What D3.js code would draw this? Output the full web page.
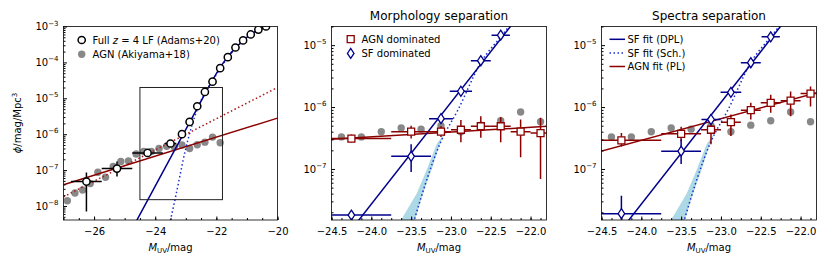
<!DOCTYPE html>
<html lang="en">
<head>
<meta charset="UTF-8">
<title>UV luminosity function: AGN vs SF</title>
<script src="https://d3js.org/d3.v7.min.js"></script>
<style>
  body { margin: 0; background: #fff; }
  svg { display: block; font-family: "DejaVu Sans", sans-serif; }
</style>
</head>
<body>
<div id="chart"></div>
<script>
// ---- values ----

// full z=4 LF (Adams+20)
const adamsM    = [-26.25, -25.25, -24.25, -23.5, -23.125, -22.875, -22.625, -22.375, -22.125, -21.875, -21.625, -21.375, -21.125, -20.875, -20.625, -20.375];
const adamsPhi  = [4.8e-8, 1.1e-7, 3.0e-7, 5.5e-7, 1.0e-6, 2.2e-6, 6.0e-6, 1.5e-5, 2.9e-5, 6.9e-5, 1.4e-4, 2.6e-4, 4.1e-4, 6.0e-4, 8.2e-4, 1.0e-3];
const adamsLo   = [7.0e-9, 6.6e-8, 2.7e-7, 5.0e-7, 0.93e-6, 2.05e-6, 5.6e-6, 1.4e-5, 2.75e-5, 6.6e-5, 1.35e-4, 2.5e-4, 3.95e-4, 5.8e-4, 7.9e-4, 0.97e-3];
const adamsHi   = [8.5e-8, 1.74e-7, 3.3e-7, 6.0e-7, 1.07e-6, 2.35e-6, 6.4e-6, 1.6e-5, 3.05e-5, 7.2e-5, 1.45e-4, 2.7e-4, 4.25e-4, 6.2e-4, 8.5e-4, 1.03e-3];
const adamsXerr = [0.5, 0.5, 0.5, 0.19, 0.125, 0.125, 0.125, 0.125, 0.125, 0.125, 0.125, 0.125, 0.125, 0.125, 0.125, 0.125];

// AGN (Akiyama+18)
const akiyamaM   = [-26.875, -26.625, -26.375, -26.125, -25.875, -25.625, -25.375, -25.125, -24.875, -24.625, -24.375, -24.125, -23.875, -23.625, -23.375, -23.125, -22.875, -22.625, -22.375, -22.125, -21.875];
const akiyamaPhi = [1.4e-8, 2.3e-8, 2.8e-8, 4.2e-8, 8.7e-8, 6.3e-8, 1.26e-7, 1.74e-7, 1.8e-7, 2.8e-7, 3.3e-7, 3.3e-7, 4.0e-7, 4.6e-7, 4.4e-7, 5.0e-7, 4.0e-7, 5.1e-7, 6.0e-7, 8.3e-7, 5.8e-7];

// morphology separation
const morphAgnM    = [-24.25, -23.5, -23.125, -22.875, -22.625, -22.375, -22.125, -21.875];
const morphAgnPhi  = [3.1e-7, 4.0e-7, 4.0e-7, 4.3e-7, 4.9e-7, 4.9e-7, 4.0e-7, 3.8e-7];
const morphAgnLo   = [2.7e-7, 3.1e-7, 3.3e-7, 2.7e-7, 3.2e-7, 2.7e-7, 1.55e-7, 6.9e-8];
const morphAgnHi   = [3.6e-7, 5.0e-7, 4.9e-7, 6.2e-7, 7.1e-7, 6.9e-7, 6.3e-7, 6.7e-7];
const morphAgnXerr = [0.5, 0.25, 0.125, 0.125, 0.125, 0.125, 0.125, 0.125];

const morphSfM    = [-24.25, -23.5, -23.125, -22.875, -22.625, -22.375];
const morphSfPhi  = [1.8e-8, 1.6e-7, 6.5e-7, 1.8e-6, 5.6e-6, 1.45e-5];
const morphSfLo   = [1.8e-8, 8.9e-8, 5.9e-7, 1.65e-6, 5.2e-6, 1.35e-5];
const morphSfHi   = [1.8e-8, 2.5e-7, 7.1e-7, 1.95e-6, 6.0e-6, 1.55e-5];
const morphSfXerr = [0.5, 0.25, 0.15, 0.14, 0.125, 0.115];

// spectra separation
const specAgnM    = [-24.25, -23.5, -23.125, -22.875, -22.625, -22.375, -22.125, -21.875];
const specAgnPhi  = [2.9e-7, 3.7e-7, 4.3e-7, 5.7e-7, 8.9e-7, 1.17e-6, 1.27e-6, 1.65e-6];
const specAgnLo   = [2.3e-7, 2.8e-7, 2.5e-7, 3.4e-7, 6.3e-7, 8.1e-7, 7.1e-7, 1.02e-6];
const specAgnHi   = [3.8e-7, 4.8e-7, 5.9e-7, 7.6e-7, 1.17e-6, 1.58e-6, 1.78e-6, 2.14e-6];
const specAgnXerr = [0.5, 0.25, 0.125, 0.125, 0.125, 0.125, 0.125, 0.125];

const specSfM    = [-24.25, -23.5, -23.125, -22.875, -22.625, -22.375];
const specSfPhi  = [1.9e-8, 1.94e-7, 6.3e-7, 1.73e-6, 5.2e-6, 1.36e-5];
const specSfLo   = [1.0e-8, 1.2e-7, 5.7e-7, 1.6e-6, 4.8e-6, 1.27e-5];
const specSfHi   = [3.7e-8, 3.0e-7, 6.9e-7, 1.87e-6, 5.6e-6, 1.45e-5];
const specSfXerr = [0.5, 0.25, 0.12, 0.13, 0.125, 0.115];

// fit curves (read as points along each curve)
const fullDplM   = [-24.7, -23.4, -22.6, -22.13, -21.87, -21.62, -21.38, -21.13, -20.88, -20.63, -20.38, -20.2];
const fullDplPhi = [2.8e-9, 3.16e-7, 5.75e-6, 3.16e-5, 7.4e-5, 1.45e-4, 2.5e-4, 4.0e-4, 6.0e-4, 8.1e-4, 1.05e-3, 1.26e-3];
const fullSchM   = [-23.56, -23.32, -23.01, -22.63, -22.38, -22.13, -21.87, -21.62, -21.38, -21.13, -20.88, -20.63, -20.38, -20.2];
const fullSchPhi = [2.4e-9, 2.04e-8, 3.7e-7, 4.8e-6, 1.38e-5, 3.0e-5, 6.9e-5, 1.38e-4, 2.45e-4, 3.9e-4, 5.9e-4, 7.9e-4, 1.02e-3, 1.23e-3];
const fullAgnPlM     = [-27, -20];
const fullAgnPlPhi   = [3.9e-8, 2.8e-6];
const fullAgnDotPhi  = [1.8e-8, 2.0e-5];

const sfDplM   = [-24.6, -22.0];
const sfDplPhi = [2.8e-9, 5.2e-5];
const sfSchM   = [-23.5, -23.13, -22.91, -22.62, -22.37, -22.15];
const sfSchPhi = [1.02e-8, 2.69e-7, 9.1e-7, 5.37e-6, 1.38e-5, 3.16e-5];
const sfBandPhi   = [1.4e-8, 4.0e-8, 1.0e-7, 2.5e-7, 3.5e-7];
const sfBandLeft  = [-23.64, -23.43, -23.3, -23.18, -23.1];
const sfBandRight = [-23.46, -23.35, -23.24, -23.14, -23.09];

const morphAgnPlM   = [-24.6, -21.7];
const morphAgnPlPhi = [2.96e-7, 4.97e-7];
const specAgnPlM    = [-24.6, -21.7];
const specAgnPlPhi  = [1.8e-7, 1.84e-6];

const zoomBoxM   = [-24.5, -21.8];
const zoomBoxPhi = [1.5e-8, 2e-5];

// ---- layout ----
const width = 830, height = 267;
const plotTop = 26.5, plotBottom = 220;
const navy = "#00008b", blueDot = "#1a2fd0", red = "#8b0000", redDot = "#a81818", grey = "#888888";

const svg = d3.select("#chart").append("svg")
    .attr("width", width).attr("height", height);

const defs = svg.append("defs");

function makePanel(id, x0, x1, xDom, yDom) {
    const x = d3.scaleLinear().domain(xDom).range([x0, x1]);
    const y = d3.scaleLog().domain(yDom).range([plotBottom, plotTop]);
    defs.append("clipPath").attr("id", "clip-" + id)
        .append("rect").attr("x", x0).attr("y", plotTop)
        .attr("width", x1 - x0).attr("height", plotBottom - plotTop);
    const g = svg.append("g").attr("clip-path", `url(#clip-${id})`);
    return {id, x, y, g, x0, x1};
}

function supLabel(sel, base, sup) {
    sel.append("tspan").text(base);
    sel.append("tspan").attr("font-size", 7).attr("dy", -4.5).text(sup);
}

function drawAxes(p, xMajor, xMinor, xFmt, yMajor, yLabels) {
    const ax = svg.append("g");
    const xa = ax.append("g").attr("transform", `translate(0,${plotBottom})`)
        .call(d3.axisBottom(p.x).tickValues(xMinor).tickSize(-2).tickFormat(""));
    xa.select(".domain").remove();
    const xb = ax.append("g").attr("transform", `translate(0,${plotBottom})`)
        .call(d3.axisBottom(p.x).tickValues(xMajor).tickSize(-3.5).tickFormat(xFmt));
    xb.select(".domain").remove();
    xb.attr("font-family", "DejaVu Sans").attr("font-size", 10);
    xb.selectAll("text").attr("y", 15.2).attr("dy", null).attr("fill", "#000");

    const [lo, hi] = p.y.domain();
    const minor = [];
    for (let d = Math.floor(Math.log10(lo)); d <= Math.ceil(Math.log10(hi)); d++) {
        for (let m = 2; m <= 9; m++) {
            const v = m * Math.pow(10, d);
            if (v >= lo && v <= hi) minor.push(v);
        }
    }
    const ya = ax.append("g").attr("transform", `translate(${p.x0},0)`)
        .call(d3.axisLeft(p.y).tickValues(minor).tickSize(-2).tickFormat(""));
    ya.select(".domain").remove();
    const yb = ax.append("g").attr("transform", `translate(${p.x0},0)`)
        .call(d3.axisLeft(p.y).tickValues(yMajor).tickSize(-3.5).tickFormat(""));
    yb.select(".domain").remove();
    yMajor.forEach((v, i) => {
        const t = ax.append("text").attr("x", p.x0 - 5).attr("y", p.y(v) + 3.6)
            .attr("text-anchor", "end").attr("font-size", 10);
        supLabel(t, "10", yLabels[i]);
    });

    ax.append("rect").attr("x", p.x0).attr("y", plotTop)
        .attr("width", p.x1 - p.x0).attr("height", plotBottom - plotTop)
        .attr("fill", "none").attr("stroke", "#000").attr("stroke-width", 0.8);

    const xl = ax.append("text").attr("x", (p.x0 + p.x1) / 2).attr("y", 250.5)
        .attr("text-anchor", "middle").attr("font-size", 10);
    xl.append("tspan").attr("font-style", "italic").text("M");
    xl.append("tspan").attr("font-size", 7).attr("dy", 2.2).text("UV");
    xl.append("tspan").attr("dy", -2.2).text("/mag");
}

function drawLine(p, ms, phis, color, dotted, curved) {
    const line = d3.line().x(d => p.x(d[0])).y(d => p.y(d[1]));
    if (curved) line.curve(d3.curveMonotoneX);
    p.g.append("path").datum(d3.zip(ms, phis))
        .attr("d", line).attr("fill", "none").attr("stroke", color)
        .attr("stroke-width", 1.5)
        .attr("stroke-dasharray", dotted ? "1.5,2.5" : null);
}

function drawErrors(p, ms, phis, lo, hi, xerr, color) {
    const rows = ms.map((m, i) => ({m, phi: phis[i], lo: lo[i], hi: hi[i], xe: xerr[i]}));
    p.g.append("g").selectAll("line.h").data(rows).enter().append("line")
        .attr("x1", d => p.x(d.m - d.xe)).attr("x2", d => p.x(d.m + d.xe))
        .attr("y1", d => p.y(d.phi)).attr("y2", d => p.y(d.phi))
        .attr("stroke", color).attr("stroke-width", 1.5);
    p.g.append("g").selectAll("line.v").data(rows).enter().append("line")
        .attr("x1", d => p.x(d.m)).attr("x2", d => p.x(d.m))
        .attr("y1", d => p.y(d.lo)).attr("y2", d => p.y(d.hi))
        .attr("stroke", color).attr("stroke-width", 1.5);
}

const squarePath = "M-3.5,-3.5H3.5V3.5H-3.5Z";
const diamondPath = "M0,-5L3.3,0L0,5L-3.3,0Z";

function drawMarkers(g, pts, kind, color) {
    const sel = g.append("g").selectAll("g").data(pts).enter().append("g")
        .attr("transform", d => `translate(${d[0]},${d[1]})`);
    if (kind === "circle") {
        sel.append("circle").attr("r", 3.6).attr("fill", "#fff").attr("stroke", color).attr("stroke-width", 1.5);
    } else if (kind === "dot") {
        sel.append("circle").attr("r", 3.7).attr("fill", color);
    } else if (kind === "square") {
        sel.append("path").attr("d", squarePath).attr("fill", "#fff").attr("stroke", color).attr("stroke-width", 1.3);
    } else {
        sel.append("path").attr("d", diamondPath).attr("fill", "#fff").attr("stroke", color).attr("stroke-width", 1.3);
    }
}

const toPx = (p, ms, phis) => ms.map((m, i) => [p.x(m), p.y(phis[i])]);

// ---- left panel: full LF ----
const full = makePanel("full", 63.5, 277.5, [-27, -20], [4.07e-9, 1e-3]);
drawMarkers(full.g, toPx(full, akiyamaM, akiyamaPhi), "dot", grey);
drawLine(full, fullAgnPlM, fullAgnDotPhi, redDot, true);
drawLine(full, fullAgnPlM, fullAgnPlPhi, red, false);
drawLine(full, fullSchM, fullSchPhi, blueDot, true, true);
drawLine(full, fullDplM, fullDplPhi, navy, false, true);
full.g.append("rect")
    .attr("x", full.x(zoomBoxM[0])).attr("y", full.y(zoomBoxPhi[1]))
    .attr("width", full.x(zoomBoxM[1]) - full.x(zoomBoxM[0]))
    .attr("height", full.y(zoomBoxPhi[0]) - full.y(zoomBoxPhi[1]))
    .attr("fill", "none").attr("stroke", "#222").attr("stroke-width", 1);
drawErrors(full, adamsM, adamsPhi, adamsLo, adamsHi, adamsXerr, "#000");
drawMarkers(full.g, toPx(full, adamsM, adamsPhi), "circle", "#000");
drawAxes(full, [-26, -24, -22, -20], d3.range(-27, -19.99, 0.5), d3.format("d"),
    [1e-8, 1e-7, 1e-6, 1e-5, 1e-4, 1e-3], ["\u22128", "\u22127", "\u22126", "\u22125", "\u22124", "\u22123"]);

const yl = svg.append("text").attr("transform", "translate(21,123) rotate(-90)")
    .attr("text-anchor", "middle").attr("font-size", 10);
yl.append("tspan").attr("font-style", "italic").text("\u03d5");
yl.append("tspan").text("/mag/Mpc");
yl.append("tspan").attr("font-size", 7).attr("dy", -4.5).text("3");

// legend
const lg1 = svg.append("g").attr("font-size", 10);
drawMarkers(lg1, [[81.7, 40]], "circle", "#000");
drawMarkers(lg1, [[81.7, 54.3]], "dot", grey);
const l1 = lg1.append("text").attr("x", 92.5).attr("y", 43.6);
l1.append("tspan").text("Full ");
l1.append("tspan").attr("font-style", "italic").text("z");
l1.append("tspan").text(" = 4 LF (Adams+20)");
lg1.append("text").attr("x", 92.5).attr("y", 57.9).text("AGN (Akiyama+18)");

// ---- middle and right panels ----
function sfPanel(p, agnM, agnPhi, agnLo, agnHi, agnXerr, plM, plPhi, sfM, sfPhi, sfLo, sfHi, sfXerr) {
    drawMarkers(p.g, toPx(p, akiyamaM, akiyamaPhi), "dot", grey);
    const band = d3.area()
        .y(d => p.y(d[0])).x0(d => p.x(d[1])).x1(d => p.x(d[2]));
    p.g.append("path").datum(d3.zip(sfBandPhi, sfBandLeft, sfBandRight))
        .attr("d", band).attr("fill", "#add8e6");
    drawLine(p, plM, plPhi, red, false);
    drawLine(p, sfSchM, sfSchPhi, blueDot, true, true);
    drawLine(p, sfDplM, sfDplPhi, navy, false);
    drawErrors(p, agnM, agnPhi, agnLo, agnHi, agnXerr, red);
    drawMarkers(p.g, toPx(p, agnM, agnPhi), "square", red);
    drawErrors(p, sfM, sfPhi, sfLo, sfHi, sfXerr, navy);
    drawMarkers(p.g, toPx(p, sfM, sfPhi), "diamond", navy);
    drawAxes(p, d3.range(-24.5, -21.99, 0.5), d3.range(-24.5, -21.79, 0.125), d3.format(".1f"),
        [1e-7, 1e-6, 1e-5], ["\u22127", "\u22126", "\u22125"]);
}

const morph = makePanel("morph", 331.5, 546.5, [-24.5, -21.8], [1.5e-8, 2e-5]);
sfPanel(morph, morphAgnM, morphAgnPhi, morphAgnLo, morphAgnHi, morphAgnXerr, morphAgnPlM, morphAgnPlPhi,
    morphSfM, morphSfPhi, morphSfLo, morphSfHi, morphSfXerr);
svg.append("text").attr("x", 439).attr("y", 20).attr("text-anchor", "middle")
    .attr("font-size", 12).text("Morphology separation");

const lg2 = svg.append("g").attr("font-size", 10);
drawMarkers(lg2, [[350.7, 39.2]], "square", red);
drawMarkers(lg2, [[350.7, 53.4]], "diamond", navy);
lg2.append("text").attr("x", 361.5).attr("y", 42.8).text("AGN dominated");
lg2.append("text").attr("x", 361.5).attr("y", 57).text("SF dominated");

const spec = makePanel("spec", 601.5, 816.5, [-24.5, -21.8], [1.5e-8, 2e-5]);
sfPanel(spec, specAgnM, specAgnPhi, specAgnLo, specAgnHi, specAgnXerr, specAgnPlM, specAgnPlPhi,
    specSfM, specSfPhi, specSfLo, specSfHi, specSfXerr);
svg.append("text").attr("x", 709).attr("y", 20).attr("text-anchor", "middle")
    .attr("font-size", 12).text("Spectra separation");

const lg3 = svg.append("g").attr("font-size", 10);
const lg3Items = [["SF fit (DPL)", navy, false], ["SF fit (Sch.)", blueDot, true], ["AGN fit (PL)", red, false]];
lg3Items.forEach((d, i) => {
    const yy = 39.3 + i * 13.6;
    lg3.append("line").attr("x1", 609.5).attr("x2", 625).attr("y1", yy).attr("y2", yy)
        .attr("stroke", d[1]).attr("stroke-width", 1.5)
        .attr("stroke-dasharray", d[2] ? "1.5,2.5" : null);
    lg3.append("text").attr("x", 627.5).attr("y", yy + 3.6).text(d[0]);
});
</script>
</body>
</html>
